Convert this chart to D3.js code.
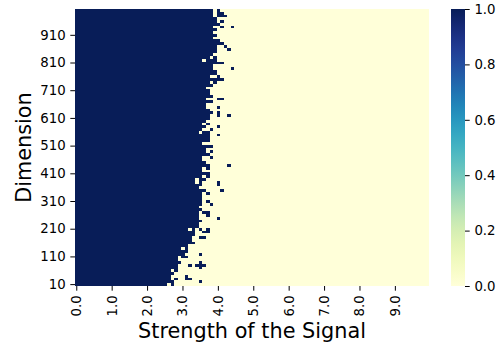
<!DOCTYPE html>
<html>
<head>
<meta charset="utf-8">
<script src="https://cdn.jsdelivr.net/npm/d3@7"></script>
<style>
  body { margin: 0; background: #fff; }
  text { font-family: "DejaVu Sans", sans-serif; fill: #000; }
</style>
</head>
<body>
<div id="chart"></div>
<script>
// bins of the heatmap
const strengths = d3.range(100).map(i => (i / 10).toFixed(1));   // 0.0 .. 9.9
const dimensions = d3.range(1000, 0, -10);                       // top row 1000 .. bottom row 10

const xTickLabels = ["0.0", "1.0", "2.0", "3.0", "4.0", "5.0", "6.0", "7.0", "8.0", "9.0"];
const yTickLabels = [910, 810, 710, 610, 510, 410, 310, 210, 110, 10];
const colorTicks = [0, 0.2, 0.4, 0.6, 0.8, 1.0];

// cells equal to 1 for each row (top row first), as [from, to] column ranges or single columns
const onesByRow = [
  [[0,38],40], [[0,38],[40,41]], [[0,38],[40,42]], [[0,39]], [[0,39],41],
  [[0,40]], [[0,38],41,44], [[0,39]], [[0,38]], [[0,39]],
  [[0,38]], [[0,40]], [[0,41]], [[0,39],42], [[0,39],43],
  [[0,39]], [[0,38]], [[0,37],39], [[0,35],[37,39]], [[0,41]],
  [[0,38]], [[0,38],44], [[0,39]], [[0,39]], [[0,37],40],
  [[0,41]], [[0,37],39], [[0,38]], [[0,36]], [[0,37]],
  [[0,37]], [[0,38]], [[0,36],[40,41]], [[0,38]], [[0,36]],
  [[0,36],40], [[0,37]], [[0,38],40], [[0,37],40,43], [[0,37]],
  [[0,36]], [[0,35],37], [[0,36],40], [[0,35],38], [[0,34],[36,37]],
  [[0,37],40], [[0,37]], [[0,37]], [[0,35]], [[0,38]],
  [[0,36]], [[0,36],38], [[0,37]], [[0,35],38], [[0,35]],
  [[0,36]], [[0,37],43], [[0,35],37], [[0,35]], [[0,37]],
  [[0,35],37], [[0,33],[35,36]], [[0,33],35,40], [[0,35],40], [[0,34]],
  [[0,36],41], [[0,35],37], [[0,35]], [[0,35]], [[0,35],37],
  [[0,35],38], [[0,34]], [[0,35]], [[0,34],[36,37]], [[0,34],37],
  [[0,34],40], [[0,35]], [[0,34]], [[0,34]], [[0,31],33,35,37],
  [[0,33],[36,37]], [[0,33]], [[0,32],[35,36]], [[0,32]], [[0,33]],
  [[0,31]], [[0,29],31], [[0,31]], [[0,30],35], [[0,28],[30,31]],
  [[0,28]], [[0,29],35], [[0,28],32,[34,36]], [[0,28],35], [[0,26],28],
  [[0,27]], [[0,26],31], [[0,26],28,[31,32]], [[0,27],35], [[0,25],27]
];

const width = 502, height = 347;
const plot = { left: 75, top: 9, right: 429, bottom: 286 };
const bar = { left: 451, right: 465 };

// expand to cells
const cells = [];
onesByRow.forEach((runs, r) => {
  const row = new Array(strengths.length).fill(0);
  runs.forEach(run => {
    const [a, b] = Array.isArray(run) ? run : [run, run];
    for (let c = a; c <= b; c++) row[c] = 1;
  });
  row.forEach((v, c) => cells.push({ s: strengths[c], d: dimensions[r], v }));
});

const svg = d3.select("#chart").append("svg")
  .attr("width", width)
  .attr("height", height);

const x = d3.scaleBand().domain(strengths).range([plot.left, plot.right]);
const y = d3.scaleBand().domain(dimensions).range([plot.top, plot.bottom]);
const color = v => d3.interpolateYlGnBu(v);

svg.append("g")
  .selectAll("rect")
  .data(cells)
  .join("rect")
  .attr("x", d => x(d.s))
  .attr("y", d => y(d.d))
  .attr("width", x.bandwidth() + 0.3)
  .attr("height", y.bandwidth() + 0.3)
  .attr("fill", d => color(d.v))
  .attr("shape-rendering", "crispEdges");

const tickLen = 4.7, tickPad = 4.7, tickFont = 13.3;

// x axis
const xAxis = svg.append("g")
  .attr("transform", `translate(0,${plot.bottom})`)
  .call(d3.axisBottom(x).tickValues(xTickLabels).tickSize(tickLen).tickSizeOuter(0));
xAxis.select(".domain").remove();
xAxis.selectAll("text")
  .style("font-size", tickFont + "px")
  .attr("text-anchor", "end")
  .attr("dy", null)
  .attr("y", null)
  .attr("dominant-baseline", "central")
  .attr("transform", `translate(0,${tickLen + tickPad}) rotate(-90)`);

// y axis
const yAxis = svg.append("g")
  .attr("transform", `translate(${plot.left},0)`)
  .call(d3.axisLeft(y).tickValues(yTickLabels).tickSize(tickLen).tickPadding(tickPad).tickSizeOuter(0));
yAxis.select(".domain").remove();
yAxis.selectAll("text").style("font-size", tickFont + "px");

// axis titles
svg.append("text")
  .attr("x", (plot.left + plot.right) / 2)
  .attr("y", 338)
  .attr("text-anchor", "middle")
  .style("font-size", "20.8px")
  .text("Strength of the Signal");

svg.append("text")
  .attr("transform", `translate(31,${(plot.top + plot.bottom) / 2}) rotate(-90)`)
  .attr("text-anchor", "middle")
  .style("font-size", "20.8px")
  .text("Dimension");

// colour bar
const defs = svg.append("defs");
const grad = defs.append("linearGradient")
  .attr("id", "cbar")
  .attr("x1", 0).attr("y1", 1).attr("x2", 0).attr("y2", 0);
grad.selectAll("stop")
  .data(d3.range(0, 1.0001, 0.05))
  .join("stop")
  .attr("offset", d => d)
  .attr("stop-color", d => color(d));

const cy = d3.scaleLinear().domain([0, 1]).range([plot.bottom, plot.top]);
svg.append("rect")
  .attr("x", bar.left)
  .attr("y", cy(1))
  .attr("width", bar.right - bar.left)
  .attr("height", cy(0) - cy(1))
  .attr("fill", "url(#cbar)");

const cAxis = svg.append("g")
  .attr("transform", `translate(${bar.right},0)`)
  .call(d3.axisRight(cy).tickValues(colorTicks).tickFormat(d3.format(".1f"))
    .tickSize(tickLen).tickPadding(tickPad).tickSizeOuter(0));
cAxis.select(".domain").remove();
cAxis.selectAll("text").style("font-size", tickFont + "px");
</script>
</body>
</html>
